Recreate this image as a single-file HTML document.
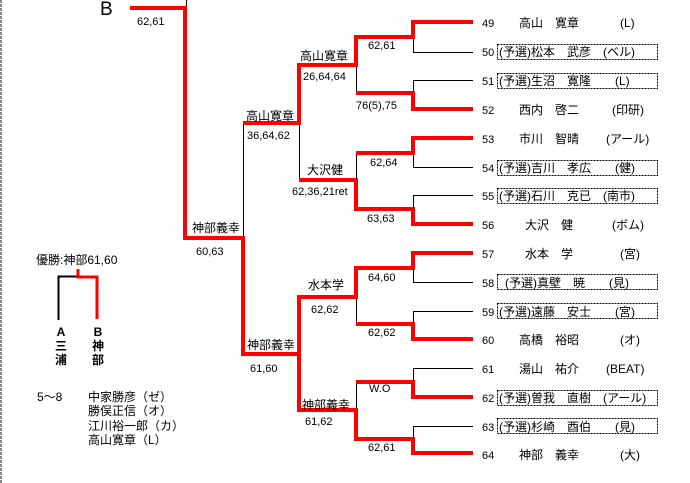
<!DOCTYPE html>
<html><head><meta charset="utf-8"><style>
html,body{margin:0;padding:0;background:#fff;}
svg{display:block;}
text{font-family:"Liberation Sans","Noto Sans CJK JP",sans-serif;fill:#000;}
.s{font-size:11px;}
.n{font-size:12px;}
</style></head><body>
<svg width="690" height="483" viewBox="0 0 690 483" xmlns="http://www.w3.org/2000/svg" shape-rendering="crispEdges">
<line x1="1" y1="0" x2="1" y2="483" stroke="#888" stroke-width="2" stroke-dasharray="3,1"/>
<g stroke="#000" stroke-width="1" fill="none">
<line x1="186.5" y1="0" x2="186.5" y2="8"/>
<line x1="243.5" y1="123" x2="243.5" y2="238"/>
<line x1="299.5" y1="123" x2="299.5" y2="180"/>
<line x1="299.5" y1="297" x2="299.5" y2="354"/>
<line x1="356.5" y1="65" x2="356.5" y2="93"/>
<line x1="356.5" y1="153" x2="356.5" y2="180"/>
<line x1="356.5" y1="297" x2="356.5" y2="324"/>
<line x1="356.5" y1="382" x2="356.5" y2="410"/>
<path d="M413.5 37V52.5H473"/><path d="M413.5 93V80.5H473"/>
<path d="M413.5 153V167.5H473"/><path d="M413.5 209V195.5H473"/>
<path d="M413.5 268V282.5H473"/><path d="M413.5 324V311.5H473"/>
<path d="M413.5 382V368.5H473"/><path d="M413.5 439V426.5H473"/>
<path d="M58.5 320V276.5H78" stroke-width="2"/>
</g>
<g stroke="#f00" stroke-width="4" fill="none" stroke-linejoin="miter">
<path d="M130 8H185V238H243V354H299V410H356V439H413V453H473"/>
<path d="M243 123H299V65H356V37H413V22H473"/>
<path d="M356 93H413V109H473"/>
<path d="M356 153H413V138H473"/>
<path d="M299 180H356V209H413V224H473"/>
<path d="M243 354H299V297H356V268H413V253H473"/>
<path d="M356 324H413V339H473"/>
<path d="M356 382H413V397H473"/>
<path d="M78 269V277H97V319" stroke-width="3"/>
</g>
<text x="100" y="15" font-size="19">B</text>
<text class="s" x="137" y="25">62,61</text>
<text class="n" x="300" y="60">高山寛章</text><text class="s" x="303" y="80">26,64,64</text>
<text class="n" x="246" y="120">高山寛章</text><text class="s" x="247" y="139">36,64,62</text>
<text class="n" x="307" y="174">大沢健</text><text class="s" x="292" y="195">62,36,21ret</text>
<text class="s" x="368" y="49">62,61</text><text class="s" x="356" y="109">76(5),75</text>
<text class="s" x="370" y="166">62,64</text><text class="s" x="367" y="222">63,63</text>
<text class="n" x="192" y="232">神部義幸</text><text class="s" x="196" y="255">60,63</text>
<text class="n" x="308" y="289">水本学</text><text class="s" x="311" y="313">62,62</text>
<text class="n" x="247" y="349">神部義幸</text><text class="s" x="250" y="372">61,60</text>
<text class="n" x="302" y="409">神部義幸</text><text class="s" x="305" y="425">61,62</text>
<text class="s" x="368" y="281">64,60</text><text class="s" x="368" y="336">62,62</text>
<text class="s" x="369" y="392">W.O</text><text class="s" x="368" y="451">62,61</text>
<g fill="none" stroke="#000" stroke-dasharray="2,1">
<rect x="497.5" y="44.5" width="160" height="15"/>
<rect x="497.5" y="73.5" width="160" height="15"/>
<rect x="497.5" y="160.5" width="160" height="15"/>
<rect x="497.5" y="188.5" width="160" height="15"/>
<rect x="497.5" y="274.5" width="160" height="15"/>
<rect x="497.5" y="303.5" width="160" height="15"/>
<rect x="497.5" y="390.5" width="160" height="15"/>
<rect x="497.5" y="418.5" width="160" height="15"/>
</g>
<g class="n">
<text class="s" x="482" y="27">49</text><text class="n" x="519" y="27">高山　寛章</text><text class="n" x="620" y="27">(L)</text>
<text class="s" x="482" y="56">50</text><text class="n" x="499" y="56">(予選)松本　武彦　(ベル)</text>
<text class="s" x="482" y="85">51</text><text class="n" x="499" y="85">(予選)生沼　寛隆　　(L)</text>
<text class="s" x="482" y="114">52</text><text class="n" x="519" y="114">西内　啓二</text><text class="n" x="612" y="114">(印研)</text>
<text class="s" x="482" y="143">53</text><text class="n" x="519" y="143">市川　智晴</text><text class="n" x="606" y="143">(アール)</text>
<text class="s" x="482" y="172">54</text><text class="n" x="499" y="172">(予選)吉川　孝広　　(健)</text>
<text class="s" x="482" y="200">55</text><text class="n" x="499" y="200">(予選)石川　克已　(南市)</text>
<text class="s" x="482" y="229">56</text><text class="n" x="525" y="229">大沢　健</text><text class="n" x="612" y="229">(ボム)</text>
<text class="s" x="482" y="258">57</text><text class="n" x="525" y="258">水本　学</text><text class="n" x="620" y="258">(宮)</text>
<text class="s" x="482" y="287">58</text><text class="n" x="505" y="287">(予選)真壁　暁　　(見)</text>
<text class="s" x="482" y="316">59</text><text class="n" x="499" y="316">(予選)遠藤　安士　　(宮)</text>
<text class="s" x="482" y="344">60</text><text class="n" x="519" y="344">高橋　裕昭</text><text class="n" x="620" y="344">(オ)</text>
<text class="s" x="482" y="373">61</text><text class="n" x="519" y="373">湯山　祐介</text><text class="n" x="606" y="373">(BEAT)</text>
<text class="s" x="482" y="402">62</text><text class="n" x="499" y="402">(予選)曽我　直樹　(アール)</text>
<text class="s" x="482" y="431">63</text><text class="n" x="499" y="431">(予選)杉崎　酉伯　　(見)</text>
<text class="s" x="482" y="459">64</text><text class="n" x="519" y="459">神部　義幸</text><text class="n" x="620" y="459">(大)</text>
</g>
<text class="n" x="36" y="264">優勝:神部61,60</text>
<g font-weight="bold" font-size="12" text-anchor="middle">
<text x="61" y="336">A</text><text x="61" y="350">三</text><text x="61" y="364">浦</text>
<text x="98" y="336">B</text><text x="98" y="350">神</text><text x="98" y="364">部</text>
</g>
<text class="n" x="37" y="401">5〜8</text>
<text class="n" x="88" y="401">中家勝彦（ゼ）</text>
<text class="n" x="88" y="415">勝俣正信（オ）</text>
<text class="n" x="88" y="430">江川裕一郎（カ）</text>
<text class="n" x="88" y="444">高山寛章（L）</text>
</svg>
</body></html>
